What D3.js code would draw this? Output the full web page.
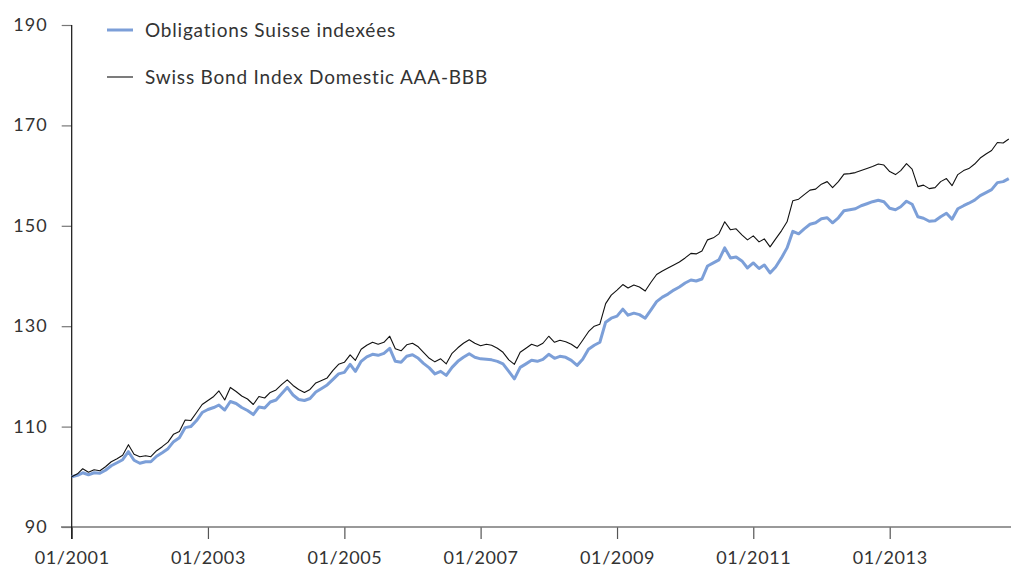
<!DOCTYPE html>
<html>
<head>
<meta charset="utf-8">
<script src="https://cdnjs.cloudflare.com/ajax/libs/d3/7.8.5/d3.min.js"></script>
<style>
  body { margin: 0; background: #fff; }
  svg text { font-family: Lato, "Open Sans", sans-serif; fill: #333; }
</style>
</head>
<body>
<div id="chartContainer"></div>
<script>
var width = 1011;
var height = 571;

var seriesNames = ['Obligations Suisse indexées', 'Swiss Bond Index Domestic AAA-BBB'];
var startMonth = '2001-01';
var yTicks = [90, 110, 130, 150, 170, 190];
var xTickLabels = ['01/2001', '01/2003', '01/2005', '01/2007', '01/2009', '01/2011', '01/2013'];

// monthly values, 01/2001 .. 10/2014
var osiValues = [
  100.0, 100.3, 100.8, 100.4, 100.8, 100.7, 101.3, 102.2, 102.8, 103.4, 105.0, 103.3,
  102.7, 103.0, 103.0, 104.1, 104.8, 105.6, 107.0, 107.8, 109.8, 110.0, 111.2, 112.8,
  113.4, 113.8, 114.3, 113.3, 115.0, 114.6, 113.8, 113.2, 112.4, 113.9, 113.7, 114.9,
  115.3, 116.6, 117.8, 116.3, 115.4, 115.2, 115.6, 116.9, 117.6, 118.3, 119.4, 120.5,
  120.8, 122.4, 121.0, 123.0, 123.9, 124.4, 124.2, 124.6, 125.6, 123.0, 122.8, 124.0,
  124.3, 123.6, 122.6, 121.7, 120.5, 121.0, 120.2, 121.8, 123.0, 123.8, 124.5, 123.8,
  123.5, 123.4, 123.3, 123.0, 122.5, 121.0, 119.5, 121.8, 122.5, 123.2, 123.0, 123.4,
  124.4, 123.6, 124.0, 123.8, 123.2, 122.2, 123.4, 125.4, 126.2, 126.8, 130.8, 131.6,
  132.0, 133.4, 132.2, 132.6, 132.3, 131.6, 133.2, 134.9, 135.8, 136.4, 137.2, 137.8,
  138.6, 139.2, 139.0, 139.4, 142.0, 142.6, 143.2, 145.6, 143.6, 143.8, 143.0, 141.6,
  142.6, 141.5, 142.2, 140.6, 141.8, 143.6, 145.6, 148.9, 148.4, 149.4, 150.3, 150.6,
  151.4, 151.6, 150.6, 151.6, 153.0, 153.2, 153.4, 154.0, 154.4, 154.8, 155.1, 154.8,
  153.5, 153.2, 153.8, 154.9, 154.3, 151.8, 151.5, 150.9, 151.0, 151.8, 152.5, 151.3,
  153.4, 154.0, 154.5, 155.1, 156.0, 156.6, 157.2, 158.6, 158.8, 159.4
];

var sbiValues = [
  100.0, 100.6, 101.6, 100.9, 101.4, 101.2, 102.0, 103.0, 103.6, 104.3, 106.4, 104.5,
  104.0, 104.2, 104.0, 105.2, 106.0, 106.9, 108.5, 109.0, 111.3, 111.2, 112.8, 114.4,
  115.2, 116.0, 117.1, 115.3, 117.8, 117.0, 116.1, 115.5, 114.4, 116.0, 115.7, 116.8,
  117.3, 118.4, 119.3, 118.2, 117.4, 116.8, 117.4, 118.7, 119.2, 119.7, 121.2, 122.4,
  122.8, 124.3, 123.2, 125.4, 126.2, 126.8, 126.4, 126.8, 128.0, 125.5, 125.1, 126.3,
  126.6, 125.9, 124.8, 123.6, 122.9, 123.5, 122.5, 124.6, 125.7, 126.6, 127.3, 126.6,
  126.1, 126.4, 126.2, 125.6, 124.8, 123.3, 122.4, 124.8, 125.6, 126.4, 126.0, 126.6,
  128.0, 126.8, 127.2, 126.9, 126.4, 125.6, 127.2, 128.9, 130.0, 130.4, 134.5, 136.2,
  137.2, 138.3, 137.6, 138.2, 137.8, 137.0, 138.7, 140.3, 141.0, 141.6, 142.2, 142.8,
  143.6, 144.5, 144.4, 145.0, 147.2, 147.6, 148.4, 150.8, 149.2, 149.4, 148.2, 147.2,
  148.0, 146.8, 147.4, 145.8, 147.4, 149.0, 150.8, 155.0, 155.3, 156.2, 157.1, 157.3,
  158.3, 158.8, 157.6, 158.8, 160.3, 160.4, 160.6, 161.0, 161.4, 161.8, 162.3, 162.1,
  160.8, 160.2, 161.0, 162.4, 161.3, 157.8, 158.1, 157.4, 157.6, 158.8, 159.4, 158.0,
  160.2, 161.0, 161.4, 162.3, 163.5, 164.3, 165.0, 166.6, 166.5, 167.3
];

var parseMonth = d3.timeParse('%Y-%m');
var dates = osiValues.map(function (d, i) {
  return d3.timeMonth.offset(parseMonth(startMonth), i);
});

var svg = d3.select('#chartContainer').
append('svg').
attr('width', width).
attr('height', height);

var xScale = d3.scaleTime().
domain([parseMonth('2001-01'), parseMonth('2015-01')]).
range([71.7, 71.7 + 168 * 5.68]);

var yScale = d3.scaleLinear().
domain([90, 190]).
range([527, 25]);

// x axis
var xTickDates = xTickLabels.map(function (s) { return d3.timeParse('%m/%Y')(s); });
var xAxis = d3.axisBottom(xScale).
tickValues(xTickDates).
tickFormat(d3.timeFormat('%m/%Y')).
tickSize(12).
tickPadding(12);

var xg = svg.append('g').
attr('transform', 'translate(0,' + yScale(90) + ')').
call(xAxis);
xg.select('.domain').remove();
xg.append('line').
attr('x1', 61).attr('x2', width).
attr('y1', 0).attr('y2', 0).
attr('stroke', '#777').attr('stroke-width', 1.5);
xg.selectAll('.tick line').attr('stroke', '#555').attr('stroke-width', 1.2);
xg.selectAll('.tick text').
style('font-size', '18px').
style('letter-spacing', '0.6px').
attr('fill', '#333');

// y axis
var yAxis = d3.axisLeft(yScale).
tickValues(yTicks).
tickSize(10).
tickPadding(14);

var yg = svg.append('g').
attr('transform', 'translate(71.7,0)').
call(yAxis);
yg.select('.domain').remove();
yg.append('line').
attr('x1', 0).attr('x2', 0).
attr('y1', yScale(190)).attr('y2', yScale(90) + 12).
attr('stroke', '#111').attr('stroke-width', 1.2);
yg.selectAll('.tick line').attr('stroke', '#777').attr('stroke-width', 1.2);
yg.selectAll('.tick text').
style('font-size', '18px').
style('letter-spacing', '1px').
attr('fill', '#333').
attr('dy', '0.3em');

var line = d3.line().
x(function (d, i) { return xScale(dates[i]); }).
y(function (d) { return yScale(d); });

svg.append('path').
datum(osiValues).
attr('fill', 'none').
attr('stroke', '#7c9fd8').
attr('stroke-width', 3).
attr('stroke-linejoin', 'round').
attr('d', line);

svg.append('path').
datum(sbiValues).
attr('fill', 'none').
attr('stroke', '#111').
attr('stroke-width', 1.1).
attr('stroke-linejoin', 'round').
attr('d', line);

// legend
var legendColors = ['#7c9fd8', '#111'];
var legendWidths = [3, 1.1];
var legend = svg.selectAll('.legend').
data(seriesNames).
enter().
append('g').
attr('class', 'legend').
attr('transform', function (d, i) { return 'translate(107,' + (30 + i * 47) + ')'; });

legend.append('line').
attr('x1', 0).attr('x2', 26).
attr('y1', 0).attr('y2', 0).
attr('stroke', function (d, i) { return legendColors[i]; }).
attr('stroke-width', function (d, i) { return legendWidths[i]; });

legend.append('text').
attr('x', 38).
attr('y', 0).
attr('dy', '0.35em').
style('font-size', '19px').
style('letter-spacing', '0.8px').
text(function (d) { return d; });
</script>
</body>
</html>
